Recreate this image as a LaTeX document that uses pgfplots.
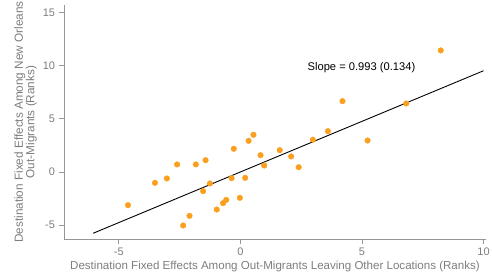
\documentclass[border=0pt]{standalone}
\usepackage{fontspec}
\setmainfont{Liberation Sans}
\usepackage{pgfplots}
\pgfplotsset{compat=1.18}
\definecolor{ptorange}{RGB}{250,160,30}
\definecolor{axgray}{RGB}{150,150,150}
\definecolor{txtgray}{RGB}{125,125,125}
\begin{document}
\begin{tikzpicture}
\begin{axis}[
  scale only axis,
  width=422bp, height=234bp,
  xmin=-7.25, xmax=10.1,
  ymin=-6.3, ymax=15.7,
  axis lines*=left,
  axis line style={axgray, line width=0.7pt},
  xtick={-5,0,5,10}, ytick={-5,0,5,10,15},
  tick align=outside,
  major tick length=4.5bp,
  tick style={axgray, line width=0.7pt},
  ticklabel style={font=\fontsize{11}{12}\selectfont, text=txtgray},
  xticklabel style={yshift=-1bp},
  yticklabel style={xshift=-1bp},
  /pgf/number format/assume math mode=true,
  xlabel={Destination Fixed Effects Among Out-Migrants Leaving Other Locations (Ranks)},
  ylabel={Destination Fixed Effects Among New Orleans\\Out-Migrants (Ranks)},
  ylabel style={align=center, font=\fontsize{11.8}{11.5}\selectfont, text=txtgray,
    at={(axis description cs:-0.0912,0.5)}, anchor=center},
  xlabel style={font=\fontsize{11.6}{12}\selectfont, text=txtgray,
    at={(axis description cs:0.5,0)}, anchor=center, yshift=-28bp},
  clip=false,
]
\addplot[only marks, mark=*, mark size=2.8bp, color=ptorange, mark options={draw=ptorange, fill=ptorange}] coordinates {
(-4.62,-3.12) (-3.51,-1.02) (-3.02,-0.61) (-2.60,0.71) (-2.35,-5.03)
(-2.09,-4.12) (-1.83,0.71) (-1.53,-1.80) (-1.43,1.11) (-1.25,-1.08)
(-0.97,-3.53) (-0.71,-2.93) (-0.58,-2.62) (-0.36,-0.58) (-0.27,2.18)
(-0.02,-2.43) (0.20,-0.55) (0.34,2.93) (0.54,3.50) (0.83,1.58)
(0.98,0.61) (1.62,2.05) (2.09,1.46) (2.40,0.45) (2.98,3.03)
(3.60,3.84) (4.20,6.66) (5.23,2.96) (6.82,6.44) (8.24,11.43)
};
\addplot[black, line width=0.9pt] coordinates {(-6.05,-5.76) (10.0,9.52)};
\node[font=\fontsize{11.2}{13}\selectfont, text=black] at (axis cs:4.98,9.86) {Slope = 0.993 (0.134)};
\end{axis}
\pgfresetboundingbox
\path ([xshift=-64bp,yshift=-38.3bp]current axis.south west) rectangle ([xshift=6bp,yshift=5bp]current axis.north east);
\end{tikzpicture}
\end{document}
